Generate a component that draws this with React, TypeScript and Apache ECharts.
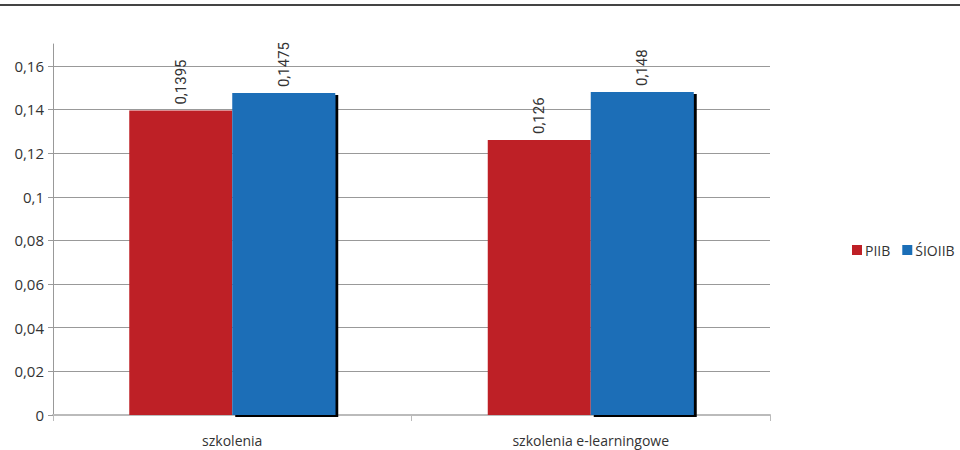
import React, { useEffect, useRef } from "react";
import * as echarts from "echarts";

const categories = ["szkolenia", "szkolenia e-learningowe"];
const piibValues = [0.1395, 0.126];
const sioiibValues = [0.1475, 0.148];
const seriesNames = ["PIIB", "ŚIOIIB"];

const fmt = (v: number) => String(v).replace(".", ",");

export default function App() {
  const ref = useRef<HTMLDivElement>(null);
  useEffect(() => {
    if (!ref.current) return;
    const chart = echarts.init(ref.current, null, { renderer: "svg" });
    const labelStyle = {
      show: true,
      position: "top" as const,
      rotate: 90,
      align: "left" as const,
      verticalAlign: "middle" as const,
      distance: 6,
      fontSize: 15,
      color: "#333",
      fontFamily: "Roboto, Arial, sans-serif",
      formatter: (p: any) => fmt(p.value),
    };
    chart.setOption({
      animation: false,
      backgroundColor: "#fff",
      graphic: [
        {
          type: "line",
          shape: { x1: 0, y1: 5, x2: 960, y2: 5 },
          style: { stroke: "#444", lineWidth: 2 },
        },
      ],
      grid: { left: 53, right: 190, top: 44, bottom: 35, containLabel: false },
      legend: {
        data: seriesNames,
        orient: "horizontal",
        left: 847,
        top: 238,
        width: 200,
        icon: "rect",
        itemWidth: 10,
        itemHeight: 10,
        itemGap: 12,
        textStyle: { fontSize: 14, color: "#333", fontFamily: "Open Sans, sans-serif", padding: [0, 0, 0, -2] },
      },
      xAxis: {
        type: "category",
        data: categories,
        axisLine: { lineStyle: { color: "#bbb", width: 2 } },
        axisTick: { show: true, length: 6, lineStyle: { color: "#bbb" } },
        axisLabel: {
          fontSize: 14,
          color: "#333",
          margin: 18,
          fontFamily: "Open Sans, sans-serif",
        },
      },
      yAxis: {
        type: "value",
        min: 0,
        max: 0.17,
        interval: 0.02,
        axisLine: { show: true, lineStyle: { color: "#999" } },
        axisTick: { show: true, length: 5, lineStyle: { color: "#999" } },
        splitLine: { show: true, showMaxLine: false, lineStyle: { color: "#999" } },
        axisLabel: {
          showMaxLabel: false,
          fontSize: 15,
          color: "#333",
          margin: 9,
          fontFamily: "Open Sans, sans-serif",
          formatter: (v: number) => (Math.abs(v - 0.17) < 1e-9 ? "" : fmt(Math.round(v * 100) / 100)),
        },
      },
      series: [
        {
          name: seriesNames[0],
          type: "bar",
          data: piibValues,
          barWidth: 103,
          barGap: "0%",
          itemStyle: { color: "#be2026" },
          label: labelStyle,
        },
        {
          name: seriesNames[1],
          type: "bar",
          data: sioiibValues,
          barWidth: 103,
          itemStyle: {
            color: "#1a6eb7",
            shadowColor: "#000",
            shadowOffsetX: 3,
            shadowOffsetY: 2,
            shadowBlur: 0,
          },
          label: labelStyle,
        },
      ],
    });
    return () => chart.dispose();
  }, []);
  return (
    <div
      ref={ref}
      style={{ position: "absolute", left: 0, top: 0, width: 960, height: 450 }}
    />
  );
}
